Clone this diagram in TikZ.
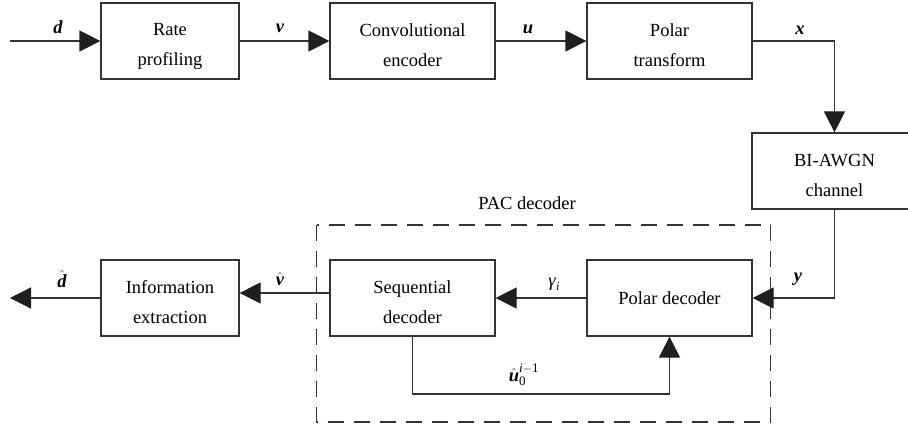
\documentclass[tikz,border=0pt]{standalone}
\usepackage{amsmath}
\usepackage{fontspec}
\setmainfont{Liberation Serif}
\usetikzlibrary{arrows.meta}
\newcommand{\bi}[1]{\textbf{\textit{#1}}}
\newcommand{\hbi}[1]{$\hat{\text{\bfseries\itshape #1}}$}
\newcommand{\tallfirst}{\rule{0pt}{22pt}}
\begin{document}
\begin{tikzpicture}[x=1pt,y=-1pt,
  blk/.style={draw=black!80,line width=1.2pt,minimum height=76pt,align=center,
    font=\fontsize{18.5}{30}\selectfont,inner sep=0pt},
  wbox/.style={blk,minimum width=165pt},
  nbox/.style={blk,minimum width=138pt},
  arr/.style={draw=black!80,line width=1.2pt,-{Triangle[length=21pt,width=21pt,fill=black!88,color=black!88]}},
  lbl/.style={font=\fontsize{18.5}{20}\selectfont,inner sep=0pt},
  dbox/.style={draw=black!80,line width=1.2pt,dash pattern=on 16pt off 10pt}]
\useasboundingbox (0,0) rectangle (908,425);
\clip (0,0) rectangle (908,425);
\node[nbox] (rate) at (170,41) {\tallfirst Rate\\profiling};
\node[wbox] (conv) at (412.5,41) {\tallfirst Convolutional\\encoder};
\node[wbox] (ptr) at (669.5,41) {\tallfirst Polar\\transform};
\node[wbox] (awgn) at (834.5,171) {\tallfirst BI-AWGN\\channel};
\node[wbox] (pdec) at (669.5,298) {Polar decoder};
\node[wbox] (seq) at (412.5,298) {\tallfirst Sequential\\decoder};
\node[nbox] (info) at (170,298) {\tallfirst Information\\extraction};
\coordinate (in) at (10,41);
\coordinate (out) at (10,298);
\coordinate (fb) at (412.5,394);
\draw[dbox] (316.5,225) rectangle (770.5,422);
\node[lbl] (pac) at (527,203) {PAC decoder};
\draw[arr] (in) -- (rate.west);
\draw[arr] (rate.east) -- (conv.west);
\draw[arr] (conv.east) -- (ptr.west);
\draw[arr] (ptr.east) -| (awgn.north);
\draw[arr] (awgn.south) |- (pdec.east);
\draw[arr] (pdec.west) -- (seq.east);
\draw[arr] ([yshift=5pt]seq.west) -- ([yshift=5pt]info.east);
\draw[arr] (info.west) -- (out);
\draw[arr] (seq.south) -- (fb) -| (pdec.south);
\node[lbl] (ld) at (58,27) {\bi{d}};
\node[lbl] (lv) at (280,28) {\bi{v}};
\node[lbl] (lu) at (528,29) {\bi{u}};
\node[lbl] (lx) at (800,30) {\bi{x}};
\node[lbl] (ly) at (798,279) {\bi{y}};
\node[lbl] (ldh) at (62,279) {\hbi{d}};
\node[lbl] (lvh) at (280,279) {\hbi{v}};
\node[lbl] (lg) at (554,284) {\textit{γ}\raisebox{-4pt}{\fontsize{12}{12}\selectfont\textit{i}}};
\node[lbl] (lhu) at (524,375) {$\hat{\text{\bfseries\itshape u}}_{\text{0}}^{\text{\itshape i}-\text{1}}$};
\end{tikzpicture}
\end{document}
